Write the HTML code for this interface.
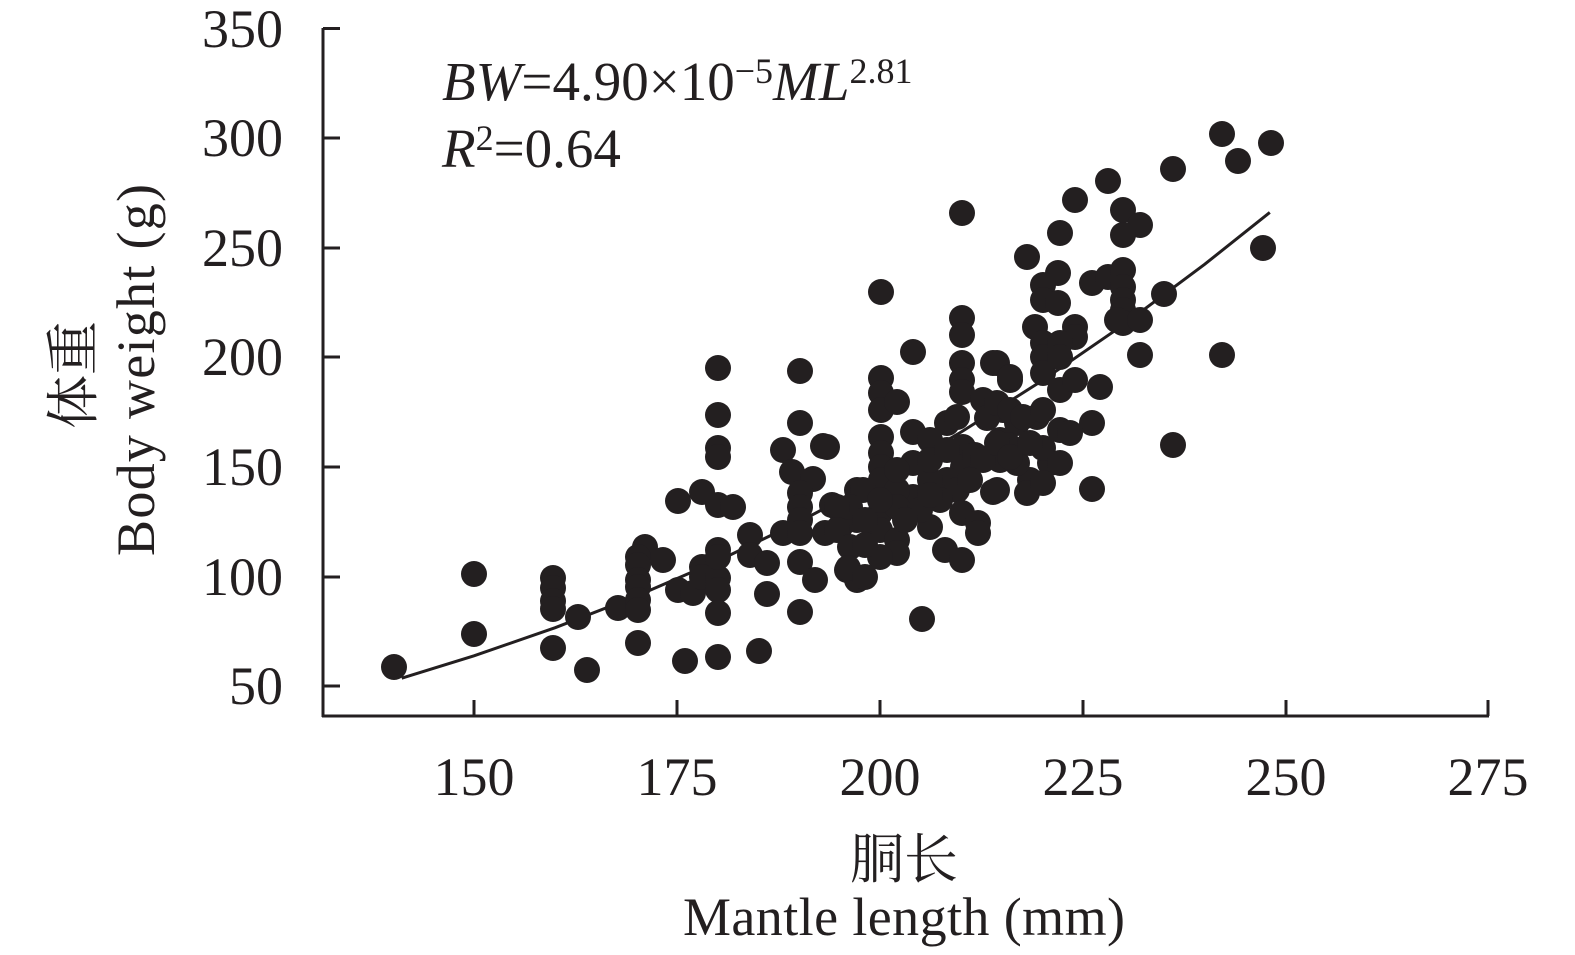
<!DOCTYPE html>
<html><head><meta charset="utf-8"><style>
html,body{margin:0;padding:0;background:#fff;}
svg{display:block;}
text{fill:#231f20;font-family:"Liberation Serif","Noto Serif CJK SC",serif;}
.cjk{font-family:"Liberation Serif","Noto Serif CJK SC","Noto Sans CJK SC",serif;}
</style></head><body>
<svg width="1575" height="955" viewBox="0 0 1575 955" xmlns="http://www.w3.org/2000/svg">
<rect width="1575" height="955" fill="#fff"/>
<g stroke="#231f20" stroke-width="3" fill="none">
<line x1="323" y1="28" x2="323" y2="717"/>
<line x1="322" y1="716" x2="1489" y2="716"/>
<line x1="323" y1="28.5" x2="340" y2="28.5"/>
<line x1="323" y1="138" x2="340" y2="138"/>
<line x1="323" y1="248" x2="340" y2="248"/>
<line x1="323" y1="357" x2="340" y2="357"/>
<line x1="323" y1="467" x2="340" y2="467"/>
<line x1="323" y1="577" x2="340" y2="577"/>
<line x1="323" y1="686" x2="340" y2="686"/>
<line x1="474" y1="716" x2="474" y2="700"/>
<line x1="677" y1="716" x2="677" y2="700"/>
<line x1="880" y1="716" x2="880" y2="700"/>
<line x1="1083" y1="716" x2="1083" y2="700"/>
<line x1="1286" y1="716" x2="1286" y2="700"/>
<line x1="1488" y1="716" x2="1488" y2="700"/>
<polyline stroke-width="3" points="401.7,678.2 474,655.8 555.2,627.7 636.4,596.1 717.6,561 798.8,522 880,479 961.2,432 1042.4,380.5 1123.6,324.7 1204.8,264.2 1269.8,212.4"/>
</g>
<g font-size="54" text-anchor="end">
<text x="283" y="47">350</text>
<text x="283" y="156">300</text>
<text x="283" y="266">250</text>
<text x="283" y="375">200</text>
<text x="283" y="485">150</text>
<text x="283" y="595">100</text>
<text x="283" y="704">50</text>
</g>
<g font-size="54" text-anchor="middle">
<text x="474" y="795">150</text>
<text x="677" y="795">175</text>
<text x="880" y="795">200</text>
<text x="1083" y="795">225</text>
<text x="1286" y="795">250</text>
<text x="1488" y="795">275</text>
</g>
<text x="442" y="100" font-size="55"><tspan font-style="italic">BW</tspan>=4.90×10<tspan font-size="36" dy="-17">−5</tspan><tspan font-style="italic" dy="17">ML</tspan><tspan font-size="36" dy="-17">2.81</tspan></text>
<text x="442" y="167" font-size="55"><tspan font-style="italic">R</tspan><tspan font-size="36" dy="-17">2</tspan><tspan dy="17">=0.64</tspan></text>
<text class="cjk" font-size="54" text-anchor="middle" transform="translate(92,375) rotate(-90)">体重</text>
<text font-size="54" text-anchor="middle" textLength="372" transform="translate(154,370) rotate(-90)">Body weight (g)</text>
<text class="cjk" font-size="54" text-anchor="middle" x="904" y="878">胴长</text>
<text font-size="54" text-anchor="middle" x="904" y="935" textLength="442">Mantle length (mm)</text>
<g fill="#231f20">
<circle cx="394" cy="667" r="13"/><circle cx="474" cy="574" r="13"/><circle cx="474" cy="634" r="13"/>
<circle cx="553" cy="578" r="13"/><circle cx="553" cy="588" r="13"/><circle cx="553" cy="601" r="13"/><circle cx="553" cy="609" r="13"/><circle cx="553" cy="648" r="13"/>
<circle cx="578" cy="617" r="13"/><circle cx="587" cy="670" r="13"/><circle cx="618" cy="608" r="13"/>
<circle cx="645" cy="547" r="13"/><circle cx="638" cy="557" r="13"/><circle cx="638" cy="565" r="13"/><circle cx="638" cy="580" r="13"/><circle cx="638" cy="587" r="13"/><circle cx="638" cy="600" r="13"/><circle cx="638" cy="610" r="13"/><circle cx="638" cy="643" r="13"/>
<circle cx="663" cy="560" r="13"/><circle cx="678" cy="590" r="13"/><circle cx="693" cy="593" r="13"/><circle cx="702" cy="567" r="13"/><circle cx="702" cy="577" r="13"/>
<circle cx="718" cy="578" r="13"/><circle cx="718" cy="590" r="13"/><circle cx="718" cy="613" r="13"/><circle cx="718" cy="657" r="13"/><circle cx="685" cy="661" r="13"/><circle cx="759" cy="651" r="13"/><circle cx="767" cy="594" r="13"/>
<circle cx="718" cy="368" r="13"/><circle cx="718" cy="415" r="13"/><circle cx="718" cy="448" r="13"/><circle cx="718" cy="457" r="13"/>
<circle cx="678" cy="501" r="13"/><circle cx="702" cy="492" r="13"/><circle cx="718" cy="505" r="13"/><circle cx="733" cy="507" r="13"/>
<circle cx="718" cy="550" r="13"/><circle cx="718" cy="557" r="13"/><circle cx="750" cy="535" r="13"/><circle cx="750" cy="555" r="13"/><circle cx="767" cy="563" r="13"/>
<circle cx="800" cy="371" r="13"/><circle cx="800" cy="423" r="13"/><circle cx="783" cy="450" r="13"/><circle cx="823" cy="446" r="13"/><circle cx="792" cy="472" r="13"/><circle cx="813" cy="479" r="13"/>
<circle cx="800" cy="493" r="13"/><circle cx="800" cy="507" r="13"/><circle cx="800" cy="520" r="13"/><circle cx="783" cy="533" r="13"/><circle cx="800" cy="533" r="13"/><circle cx="800" cy="562" r="13"/><circle cx="815" cy="580" r="13"/><circle cx="800" cy="612" r="13"/>
<circle cx="832" cy="505" r="13"/><circle cx="825" cy="533" r="13"/><circle cx="840" cy="527" r="13"/><circle cx="847" cy="570" r="13"/><circle cx="857" cy="490" r="13"/><circle cx="857" cy="520" r="13"/><circle cx="857" cy="580" r="13"/>
<circle cx="962" cy="213" r="13"/><circle cx="881" cy="292" r="13"/><circle cx="913" cy="352" r="13"/><circle cx="962" cy="318" r="13"/><circle cx="962" cy="335" r="13"/><circle cx="962" cy="363" r="13"/><circle cx="962" cy="380" r="13"/><circle cx="962" cy="392" r="13"/>
<circle cx="993" cy="363" r="13"/><circle cx="1010" cy="380" r="13"/><circle cx="881" cy="378" r="13"/><circle cx="881" cy="393" r="13"/><circle cx="881" cy="410" r="13"/><circle cx="897" cy="402" r="13"/>
<circle cx="881" cy="437" r="13"/><circle cx="881" cy="453" r="13"/><circle cx="881" cy="467" r="13"/><circle cx="881" cy="480" r="13"/>
<circle cx="913" cy="432" r="13"/><circle cx="930" cy="440" r="13"/><circle cx="947" cy="423" r="13"/><circle cx="957" cy="417" r="13"/><circle cx="983" cy="400" r="13"/><circle cx="1003" cy="410" r="13"/><circle cx="987" cy="418" r="13"/>
<circle cx="1017" cy="423" r="13"/><circle cx="1037" cy="417" r="13"/><circle cx="1050" cy="463" r="13"/><circle cx="1030" cy="480" r="13"/><circle cx="1017" cy="463" r="13"/>
<circle cx="993" cy="492" r="13"/><circle cx="1027" cy="493" r="13"/><circle cx="1043" cy="483" r="13"/>
<circle cx="963" cy="447" r="13"/><circle cx="963" cy="467" r="13"/><circle cx="947" cy="480" r="13"/><circle cx="957" cy="490" r="13"/>
<circle cx="913" cy="463" r="13"/><circle cx="930" cy="480" r="13"/><circle cx="913" cy="497" r="13"/><circle cx="897" cy="490" r="13"/>
<circle cx="863" cy="490" r="13"/><circle cx="850" cy="507" r="13"/><circle cx="837" cy="507" r="13"/><circle cx="880" cy="513" r="13"/><circle cx="897" cy="507" r="13"/>
<circle cx="827" cy="447" r="13"/><circle cx="837" cy="530" r="13"/><circle cx="850" cy="547" r="13"/><circle cx="880" cy="530" r="13"/><circle cx="897" cy="540" r="13"/><circle cx="897" cy="553" r="13"/><circle cx="880" cy="557" r="13"/><circle cx="848" cy="568" r="13"/><circle cx="865" cy="577" r="13"/>
<circle cx="930" cy="527" r="13"/><circle cx="962" cy="513" r="13"/><circle cx="978" cy="523" r="13"/><circle cx="978" cy="533" r="13"/><circle cx="945" cy="550" r="13"/><circle cx="962" cy="560" r="13"/><circle cx="922" cy="619" r="13"/>
<circle cx="930" cy="460" r="13"/><circle cx="947" cy="450" r="13"/><circle cx="897" cy="470" r="13"/><circle cx="880" cy="500" r="13"/><circle cx="1000" cy="440" r="13"/><circle cx="1000" cy="460" r="13"/><circle cx="1008" cy="445" r="13"/><circle cx="1043" cy="448" r="13"/><circle cx="975" cy="455" r="13"/><circle cx="983" cy="460" r="13"/><circle cx="970" cy="480" r="13"/><circle cx="920" cy="510" r="13"/><circle cx="905" cy="520" r="13"/><circle cx="865" cy="520" r="13"/><circle cx="865" cy="545" r="13"/><circle cx="940" cy="500" r="13"/><circle cx="930" cy="495" r="13"/>
<circle cx="1222" cy="134" r="13"/><circle cx="1271" cy="143" r="13"/><circle cx="1238" cy="161" r="13"/><circle cx="1173" cy="169" r="13"/><circle cx="1108" cy="181" r="13"/><circle cx="1075" cy="200" r="13"/>
<circle cx="1123" cy="210" r="13"/><circle cx="1140" cy="225" r="13"/><circle cx="1123" cy="235" r="13"/><circle cx="1060" cy="233" r="13"/><circle cx="1027" cy="257" r="13"/><circle cx="1263" cy="248" r="13"/>
<circle cx="1058" cy="273" r="13"/><circle cx="1043" cy="285" r="13"/><circle cx="1043" cy="300" r="13"/><circle cx="1058" cy="303" r="13"/>
<circle cx="1092" cy="283" r="13"/><circle cx="1108" cy="277" r="13"/><circle cx="1123" cy="270" r="13"/><circle cx="1123" cy="287" r="13"/><circle cx="1123" cy="300" r="13"/><circle cx="1123" cy="310" r="13"/><circle cx="1123" cy="323" r="13"/><circle cx="1117" cy="320" r="13"/><circle cx="1140" cy="320" r="13"/>
<circle cx="1164" cy="294" r="13"/><circle cx="1035" cy="327" r="13"/><circle cx="1075" cy="327" r="13"/><circle cx="1075" cy="337" r="13"/>
<circle cx="1043" cy="343" r="13"/><circle cx="1043" cy="357" r="13"/><circle cx="1043" cy="373" r="13"/><circle cx="1060" cy="343" r="13"/><circle cx="1060" cy="357" r="13"/><circle cx="1060" cy="390" r="13"/>
<circle cx="1075" cy="380" r="13"/><circle cx="1100" cy="387" r="13"/><circle cx="1140" cy="355" r="13"/><circle cx="1222" cy="355" r="13"/><circle cx="1092" cy="423" r="13"/><circle cx="1173" cy="445" r="13"/><circle cx="1092" cy="489" r="13"/>
<circle cx="997" cy="363" r="13"/><circle cx="1010" cy="377" r="13"/>
<circle cx="997" cy="403" r="13"/><circle cx="1010" cy="410" r="13"/><circle cx="1023" cy="417" r="13"/><circle cx="1043" cy="410" r="13"/><circle cx="1060" cy="430" r="13"/><circle cx="1070" cy="433" r="13"/><circle cx="997" cy="443" r="13"/><circle cx="1010" cy="457" r="13"/><circle cx="1030" cy="443" r="13"/><circle cx="1060" cy="463" r="13"/><circle cx="997" cy="490" r="13"/>
</g>
</svg>
</body></html>
